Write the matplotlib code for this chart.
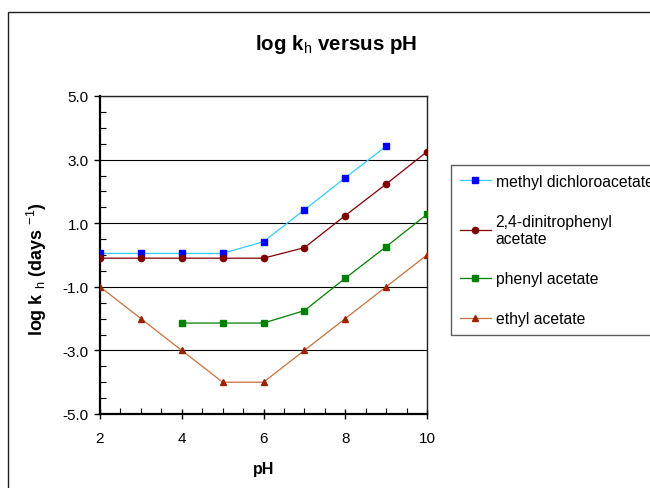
"""
log k_h versus pH for four esters (Excel-style line chart)
"""

import numpy as np
import matplotlib
matplotlib.use('Agg')
import matplotlib.pyplot as plt
from matplotlib.patches import Rectangle
from matplotlib.ticker import MultipleLocator, FixedLocator, FormatStrFormatter

plt.rcParams['font.family'] = ['Liberation Sans', 'DejaVu Sans']
plt.rcParams['mathtext.fontset'] = 'custom'
plt.rcParams['mathtext.rm'] = 'Liberation Sans'
plt.rcParams['mathtext.bf'] = 'Liberation Sans:bold'

# data
ph_methyl = [2, 3, 4, 5, 6, 7, 8, 9]
logk_methyl = [0.05, 0.05, 0.05, 0.05, 0.42, 1.42, 2.43, 3.42]

ph_dinitro = [2, 3, 4, 5, 6, 7, 8, 9, 10]
logk_dinitro = [-0.1, -0.1, -0.1, -0.1, -0.1, 0.23, 1.24, 2.23, 3.25]

ph_phenyl = [4, 5, 6, 7, 8, 9, 10]
logk_phenyl = [-2.14, -2.14, -2.14, -1.75, -0.73, 0.26, 1.28]

ph_ethyl = [2, 3, 4, 5, 6, 7, 8, 9, 10]
logk_ethyl = [-1.0, -2.0, -3.0, -4.0, -4.0, -3.0, -2.0, -1.0, 0.0]

labels = ['methyl dichloroacetate', '2,4-dinitrophenyl\nacetate',
          'phenyl acetate', 'ethyl acetate']

y_ticks = [-5.0, -3.0, -1.0, 1.0, 3.0, 5.0]

W, H = 650, 489
fig = plt.figure(figsize=(W / 100, H / 100), dpi=100, facecolor='white')

# chart area border (cut off on the right and bottom like the original)
fig.patches.append(Rectangle((8 / W, -0.2), 1.2, (H - 13) / H + 0.2,
                             transform=fig.transFigure, fill=False,
                             edgecolor='#222222', lw=1.0))

ax = fig.add_axes([100 / W, (H - 415) / H, 327 / W, 318 / H])

ax.plot(ph_methyl, logk_methyl, color='#33CCFF', lw=0.9, marker='s',
        ms=4.5, mfc='#0000FF', mec='#0000FF', label=labels[0], zorder=3)
ax.plot(ph_dinitro, logk_dinitro, color='#800000', lw=0.9, marker='o',
        ms=4.5, mfc='#800000', mec='#800000', label=labels[1], zorder=3)
ax.plot(ph_phenyl, logk_phenyl, color='#008000', lw=0.9, marker='s',
        ms=4.5, mfc='#008000', mec='#008000', label=labels[2], zorder=3)
ax.plot(ph_ethyl, logk_ethyl, color='#C8703C', lw=0.9, marker='^',
        ms=5, mfc='#992200', mec='#992200', label=labels[3], zorder=3)

ax.set_xlim(2, 10)
ax.set_ylim(-5, 5)
ax.xaxis.set_major_locator(MultipleLocator(2))
ax.xaxis.set_minor_locator(MultipleLocator(0.5))
ax.yaxis.set_major_locator(FixedLocator(y_ticks))
ax.yaxis.set_minor_locator(MultipleLocator(0.5))
ax.yaxis.set_major_formatter(FormatStrFormatter('%.1f'))

ax.grid(axis='y', which='major', color='black', lw=0.8)
ax.set_axisbelow(True)

for side in ['top', 'right']:
    ax.spines[side].set_linewidth(1.0)
    ax.spines[side].set_color('#222222')
for side in ['left', 'bottom']:
    ax.spines[side].set_linewidth(1.6)

ax.tick_params(axis='x', which='major', direction='inout', length=7,
               width=1.0, labelsize=11, pad=9)
ax.tick_params(axis='x', which='minor', direction='in', length=4, width=0.8)
ax.tick_params(axis='y', which='major', direction='out', length=4,
               width=1.0, labelsize=11, pad=4)
ax.tick_params(axis='y', which='minor', direction='in', length=4, width=0.8)

ax.set_xlabel('pH', fontsize=11.5, fontweight='bold', labelpad=11)
ax.set_ylabel(r'log k $_\mathrm{h}$ (days $^\mathrm{-1}$)', fontsize=13,
              fontweight='bold')
ax.yaxis.set_label_coords(-0.155, 0.46)

fig.text(336 / W, 1 - 44 / H, r'log k$_\mathrm{h}$ versus pH', fontsize=14.8,
         fontweight='bold', ha='center', va='center')

leg = fig.legend(loc='upper left', bbox_to_anchor=(451 / W, (H - 166) / H),
                 borderaxespad=0, fontsize=11.3, frameon=True, fancybox=False,
                 handlelength=2.0, handletextpad=0.3, labelspacing=1.6,
                 borderpad=0.55)
leg.get_frame().set_edgecolor('#333333')
leg.get_frame().set_linewidth(1.0)

fig.savefig('out.png', dpi=100, facecolor='white')
